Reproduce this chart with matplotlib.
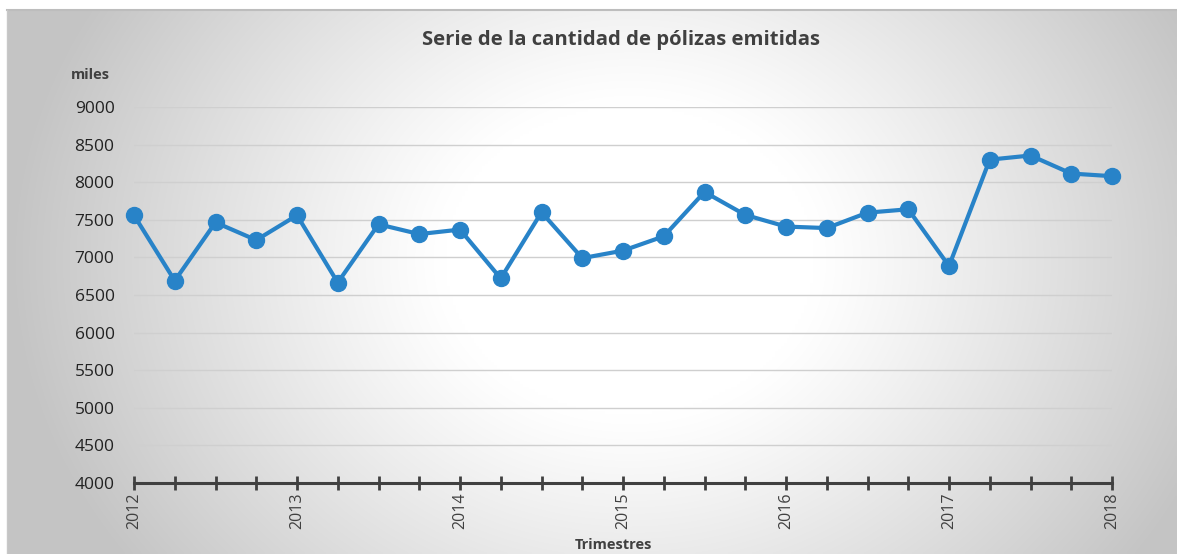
import numpy as np
import matplotlib.pyplot as plt

# Cantidad de pólizas emitidas por trimestre (miles), 2012T1 - 2018T1
anios = ["2012", "2013", "2014", "2015", "2016", "2017", "2018"]
polizas = [7560, 6690, 7465, 7230, 7560, 6665, 7440, 7310, 7370, 6720,
           7600, 6990, 7090, 7280, 7870, 7565, 7410, 7390, 7595, 7640,
           6885, 8300, 8355, 8115, 8080]

plt.rcParams['font.family'] = ['Open Sans', 'DejaVu Sans']

W, H = 1177, 554
fig = plt.figure(figsize=(W / 100, H / 100), dpi=100)
fig.patch.set_facecolor("white")

# fondo con degradado radial
bg = fig.add_axes([7 / W, 0, 1 - 7 / W, 1 - 10 / H])
bg.set_axis_off()
xx, yy = np.meshgrid(np.linspace(7, W, 400), np.linspace(10, H, 200))
d = np.sqrt(((xx - 630) / 620) ** 2 + ((yy - 260) / 520) ** 2)
val = 1 - 0.23 * np.clip((d - 0.3) / 0.7, 0, 1) ** 1.1
bg.imshow(np.dstack([val, val, val]), aspect="auto", extent=[0, 1, 0, 1],
          origin="upper", interpolation="bilinear")
bg.set_xlim(0, 1)
bg.set_ylim(0, 1)
bg.plot([0, 1], [1, 1], color="#bdbdbd", lw=1.5, transform=bg.transAxes, clip_on=False)
bg.plot([0, 0], [0, 1], color="#c8c8c8", lw=1, transform=bg.transAxes, clip_on=False)

ax = fig.add_axes([134 / W, 1 - 483 / H, (1112 - 134) / W, (483 - 107) / H])
ax.patch.set_alpha(0)
x = np.arange(len(polizas))
ax.plot(x, polizas, color="#2883c8", lw=3, marker="o", ms=11.5,
        clip_on=False, zorder=5)

ax.set_xlim(0, len(polizas) - 1)
ax.set_ylim(4000, 9000)
ax.set_yticks(np.arange(4000, 9001, 500))
ax.set_xticks(np.arange(0, len(polizas), 4))
ax.set_xticklabels(anios, rotation=90)
ax.set_xticks(np.arange(0, len(polizas)), minor=True)

for s in ["top", "right", "left"]:
    ax.spines[s].set_visible(False)
ax.spines["bottom"].set_color("#404040")
ax.spines["bottom"].set_linewidth(2.2)
ax.grid(axis="y", color="#cfcfcf", lw=1)
ax.set_axisbelow(True)

ax.tick_params(axis="y", length=0, pad=14, labelsize=12.5, labelcolor="#222222")
ax.tick_params(axis="x", which="both", direction="inout", length=10, width=2,
               color="#404040", labelsize=11.5, labelcolor="#404040", pad=2)

fig.text(621 / W, 1 - 40 / H, "Serie de la cantidad de pólizas emitidas",
         ha="center", va="center", fontsize=14.6, fontweight="bold", color="#404040")
fig.text(90 / W, 1 - 75 / H, "miles", ha="center", va="center",
         fontsize=10.5, fontweight="bold", color="#404040")
fig.text(613 / W, 1 - 545 / H, "Trimestres", ha="center", va="center",
         fontsize=10.5, fontweight="bold", color="#404040")

fig.savefig("out.png", dpi=100)
